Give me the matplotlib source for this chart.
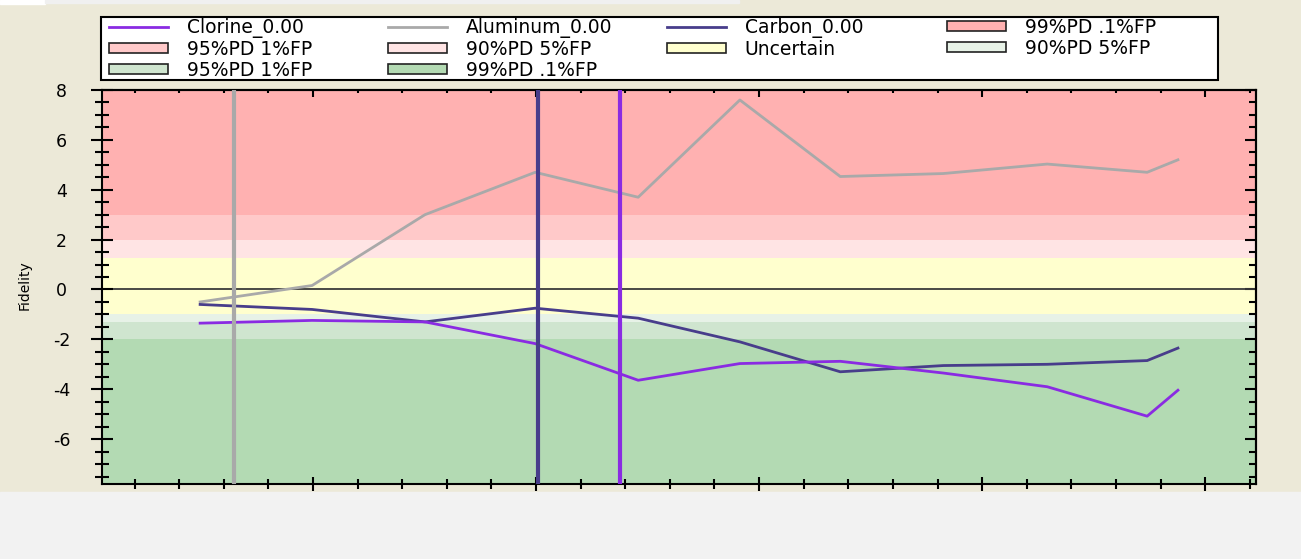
import matplotlib
matplotlib.use("Agg")
import matplotlib.pyplot as plt
from matplotlib.patches import Patch, Rectangle
from matplotlib.lines import Line2D
from matplotlib.ticker import MultipleLocator, NullFormatter

plt.rcParams['font.family'] = ['DejaVu Sans']
plt.rcParams['axes.unicode_minus'] = False

# scan positions and fidelity per element
x_pos = [2.47, 4.98, 7.51, 9.98, 12.29, 14.57, 16.82, 19.13, 21.46, 23.70, 24.39]
clorine = [-1.35, -1.24, -1.3, -2.17, -3.64, -2.97, -2.88, -3.35, -3.9, -5.08, -4.04]
aluminum = [-0.5, 0.16, 3.0, 4.7, 3.7, 7.6, 4.53, 4.65, 5.03, 4.7, 5.2]
carbon = [-0.6, -0.8, -1.3, -0.75, -1.15, -2.1, -3.3, -3.05, -3.0, -2.85, -2.35]

# position of each element's marker
clorine_mark = 11.88
aluminum_mark = 3.23
carbon_mark = 10.05

# decision bands
band_labels = ['99%PD .1%FP', '95%PD 1%FP', '90%PD 5%FP', 'Uncertain',
               '90%PD 5%FP', '95%PD 1%FP', '99%PD .1%FP']
band_low = [3.0, 2.0, 1.25, -1.0, -1.3, -2.0, -8.0]
band_high = [8.0, 3.0, 2.0, 1.25, -1.0, -1.3, -2.0]
band_colors = ['#FFB1B1', '#FFC9C9', '#FFE4E4', '#FFFFCE',
               '#E7F2E7', '#CFE5CF', '#B3DAB3']

y_ticks = [-6, -4, -2, 0, 2, 4, 6, 8]

c_clorine = '#8A2BE2'
c_aluminum = '#A9A9A9'
c_carbon = '#483D8B'

W, H = 1301, 559
fig = plt.figure(figsize=(W / 100, H / 100), dpi=100, facecolor='#ECE9D8')
fig.patches.append(Rectangle((0, 0), 1, 67 / H, transform=fig.transFigure,
                             color='#F2F2F2', zorder=0))
fig.patches.append(Rectangle((0, 1 - 4 / H), 45 / W, 4 / H, transform=fig.transFigure,
                             color='white', zorder=0))
fig.patches.append(Rectangle((45 / W, 1 - 3 / H), 694 / W, 3 / H, transform=fig.transFigure,
                             color='#F0F0F0', zorder=0))

ax = fig.add_axes([102 / W, 75 / H, 1154 / W, 394 / H])

for lo, hi, c in zip(band_low, band_high, band_colors):
    ax.axhspan(lo, hi, color=c, lw=0, zorder=0)
ax.axhline(0, color='#3a3a3a', lw=1.3, zorder=1)

ax.plot(x_pos, aluminum, color=c_aluminum, lw=2, zorder=2)
ax.plot(x_pos, carbon, color=c_carbon, lw=2, zorder=2)
ax.plot(x_pos, clorine, color=c_clorine, lw=2, zorder=2)

ax.axvline(aluminum_mark, color=c_aluminum, lw=3, zorder=3)
ax.axvline(carbon_mark, color=c_carbon, lw=3, zorder=3)
ax.axvline(clorine_mark, color=c_clorine, lw=3, zorder=3)

ax.set_xlim(0.27, 26.14)
ax.set_ylim(-7.8, 8)
ax.xaxis.set_major_locator(MultipleLocator(5))
ax.xaxis.set_minor_locator(MultipleLocator(1))
ax.xaxis.set_major_formatter(NullFormatter())
ax.set_yticks(y_ticks)
ax.set_yticklabels([str(v) for v in y_ticks], ha='center')
ax.yaxis.set_minor_locator(MultipleLocator(0.5))

for s in ax.spines.values():
    s.set_linewidth(1.5)
ax.tick_params(axis='x', which='major', direction='inout', length=10, width=1.5)
ax.tick_params(axis='x', which='minor', direction='inout', length=6.5, width=1.5)
ax.tick_params(axis='y', which='major', direction='inout', length=16, width=1.5,
               labelsize=12.5, pad=21)
ax.tick_params(axis='y', which='minor', direction='inout', length=9.4, width=1.5)

# inward ticks on the top and right edges
top = ax.secondary_xaxis('top')
top.xaxis.set_major_locator(MultipleLocator(5))
top.xaxis.set_minor_locator(MultipleLocator(1))
top.xaxis.set_major_formatter(NullFormatter())
top.tick_params(which='major', direction='in', length=5, width=1.5)
top.tick_params(which='minor', direction='in', length=2.5, width=1.5)
top.spines['top'].set_linewidth(1.5)

right = ax.secondary_yaxis('right')
right.yaxis.set_major_locator(MultipleLocator(2))
right.yaxis.set_minor_locator(MultipleLocator(0.5))
right.yaxis.set_major_formatter(NullFormatter())
right.tick_params(which='major', direction='in', length=8, width=1.5)
right.tick_params(which='minor', direction='in', length=5, width=1.5)
right.spines['right'].set_linewidth(1.5)

ax.set_ylabel('Fidelity', fontsize=10)
ax.yaxis.set_label_coords(-0.0607, 0.505)

# legend laid out as four fixed-width columns inside one frame
def band(i):
    return Patch(facecolor=band_colors[i], edgecolor='#222222', lw=1.2, label=band_labels[i])

columns = [
    [Line2D([], [], color=c_clorine, lw=2, label='Clorine_0.00'), band(1), band(5)],
    [Line2D([], [], color=c_aluminum, lw=2, label='Aluminum_0.00'), band(2), band(6)],
    [Line2D([], [], color=c_carbon, lw=2, label='Carbon_0.00'), band(3)],
    [band(0), band(4)],
]
col_x = [109, 388, 667, 947]
for cx, handles in zip(col_x, columns):
    fig.legend(handles=handles, loc='upper left', bbox_to_anchor=(cx / W, 1 - 18 / H),
               frameon=False, borderpad=0, borderaxespad=0, fontsize=13.5,
               handlelength=3.15, handleheight=0.45, handletextpad=1.0,
               labelspacing=0.1)
fig.patches.append(Rectangle((101 / W, 1 - 80 / H), 1117 / W, 63 / H,
                             transform=fig.transFigure, facecolor='white',
                             edgecolor='black', lw=1.5, zorder=0.5))

fig.savefig('out.png', dpi=100, facecolor=fig.get_facecolor())
